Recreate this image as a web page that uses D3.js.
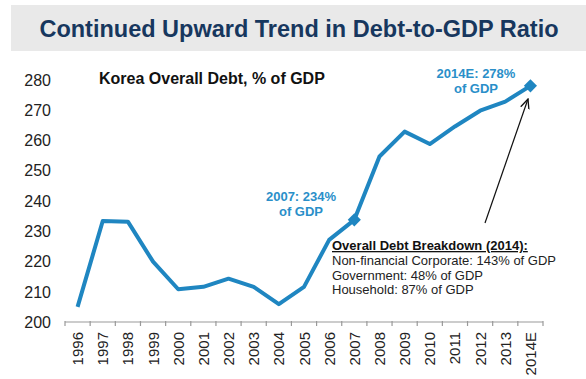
<!DOCTYPE html>
<html>
<head>
<meta charset="utf-8">
<script src="https://cdn.jsdelivr.net/npm/d3@7"></script>
<style>
  body { margin: 0; background: #fff; }
  text { font-family: Arial, "Liberation Sans", sans-serif; }
</style>
</head>
<body>
<div id="chart"></div>
<script>
// data
var years = ["1996","1997","1998","1999","2000","2001","2002","2003","2004","2005",
             "2006","2007","2008","2009","2010","2011","2012","2013","2014E"];
var debtPct = [205.0, 233.3, 233.1, 219.9, 210.8, 211.6, 214.3, 211.6, 205.9, 211.6,
               227.1, 233.7, 254.6, 262.8, 258.7, 264.5, 269.7, 272.7, 277.9];
var yTicks = [200, 210, 220, 230, 240, 250, 260, 270, 280];
var highlighted = ["2007", "2014E"];
var breakdownLines = ["Non-financial Corporate: 143% of GDP",
                      "Government: 48% of GDP",
                      "Household: 87% of GDP"];

var W = 586, H = 379;
var blue = "#1f86c1";

var svg = d3.select("#chart").append("svg")
    .attr("width", W)
    .attr("height", H);

// title banner
svg.append("rect")
    .attr("x", 11).attr("y", 5)
    .attr("width", W - 11).attr("height", 46)
    .attr("fill", "#e9e9e9");
svg.append("text")
    .attr("x", 299).attr("y", 37)
    .attr("text-anchor", "middle")
    .attr("font-size", 23.5)
    .attr("font-weight", "bold")
    .attr("fill", "#17375e")
    .text("Continued Upward Trend in Debt-to-GDP Ratio");

// scales
var x = d3.scaleBand().domain(years).range([65, 543]);
var y = d3.scaleLinear().domain([200, 280]).range([322, 79.5]);

// y labels (no axis line)
svg.append("g").selectAll("text")
    .data(yTicks)
    .enter().append("text")
    .attr("x", 51)
    .attr("y", function(d) { return y(d) + 6; })
    .attr("text-anchor", "end")
    .attr("font-size", 16)
    .attr("fill", "#222")
    .text(function(d) { return d; });

// x axis: line + ticks on band edges
var xAxis = svg.append("g").attr("class", "x axis");
xAxis.append("line")
    .attr("x1", x.range()[0]).attr("x2", x.range()[1])
    .attr("y1", 322).attr("y2", 322)
    .attr("stroke", "#999").attr("stroke-width", 1.2);
var edges = years.map(function(d) { return x(d); }).concat([x.range()[1]]);
xAxis.selectAll("line.tick")
    .data(edges)
    .enter().append("line")
    .attr("class", "tick")
    .attr("x1", function(d) { return d; }).attr("x2", function(d) { return d; })
    .attr("y1", 321).attr("y2", 326)
    .attr("stroke", "#999").attr("stroke-width", 1.2);
xAxis.selectAll("text")
    .data(years)
    .enter().append("text")
    .attr("transform", function(d) {
        return "translate(" + (x(d) + x.bandwidth() / 2 + 5.5) + ",332) rotate(-90)";
    })
    .attr("text-anchor", "end")
    .attr("font-size", 15)
    .attr("fill", "#222")
    .text(function(d) { return d; });

// the line
var points = years.map(function(d, i) { return {year: d, v: debtPct[i]}; });
var valueLine = d3.line()
    .x(function(d) { return x(d.year) + x.bandwidth() / 2; })
    .y(function(d) { return y(d.v); });
svg.append("path")
    .datum(points)
    .attr("d", valueLine)
    .attr("fill", "none")
    .attr("stroke", blue)
    .attr("stroke-width", 4)
    .attr("stroke-linejoin", "round");

// diamonds
svg.selectAll("path.marker")
    .data(points.filter(function(d) { return highlighted.indexOf(d.year) >= 0; }))
    .enter().append("path")
    .attr("class", "marker")
    .attr("d", d3.symbol().type(d3.symbolDiamond2).size(110))
    .attr("transform", function(d) {
        return "translate(" + (x(d.year) + x.bandwidth() / 2) + "," + y(d.v) + ")";
    })
    .attr("fill", blue);

// chart label
svg.append("text")
    .attr("x", 99).attr("y", 84)
    .attr("font-size", 16)
    .attr("font-weight", "bold")
    .attr("fill", "#111")
    .text("Korea Overall Debt, % of GDP");

// callouts
function callout(cx, cy, first) {
    var t = svg.append("text")
        .attr("text-anchor", "middle")
        .attr("font-size", 13)
        .attr("font-weight", "bold")
        .attr("fill", "#2a8fc9");
    t.append("tspan").attr("x", cx).attr("y", cy).text(first);
    t.append("tspan").attr("x", cx).attr("y", cy + 15).text("of GDP");
}
callout(301, 201, "2007: 234%");
callout(476, 78, "2014E: 278%");

// arrow
svg.append("defs").append("marker")
    .attr("id", "arrowhead")
    .attr("viewBox", "0 0 10 10")
    .attr("refX", 9).attr("refY", 5)
    .attr("markerWidth", 9).attr("markerHeight", 9)
    .attr("orient", "auto")
    .append("path")
    .attr("d", "M0,1 L9,5 L0,9")
    .attr("fill", "none")
    .attr("stroke", "#111")
    .attr("stroke-width", 1.2);
svg.append("line")
    .attr("x1", 485).attr("y1", 223)
    .attr("x2", 528).attr("y2", 99)
    .attr("stroke", "#111")
    .attr("stroke-width", 1.2)
    .attr("marker-end", "url(#arrowhead)");

// breakdown box
svg.append("text")
    .attr("x", 332).attr("y", 250)
    .attr("font-size", 13)
    .attr("font-weight", "bold")
    .attr("text-decoration", "underline")
    .attr("fill", "#111")
    .text("Overall Debt Breakdown (2014):");
svg.selectAll("text.breakdown")
    .data(breakdownLines)
    .enter().append("text")
    .attr("class", "breakdown")
    .attr("x", 332)
    .attr("y", function(d, i) { return 265 + i * 14.5; })
    .attr("font-size", 13)
    .attr("fill", "#222")
    .text(function(d) { return d; });
</script>
</body>
</html>
